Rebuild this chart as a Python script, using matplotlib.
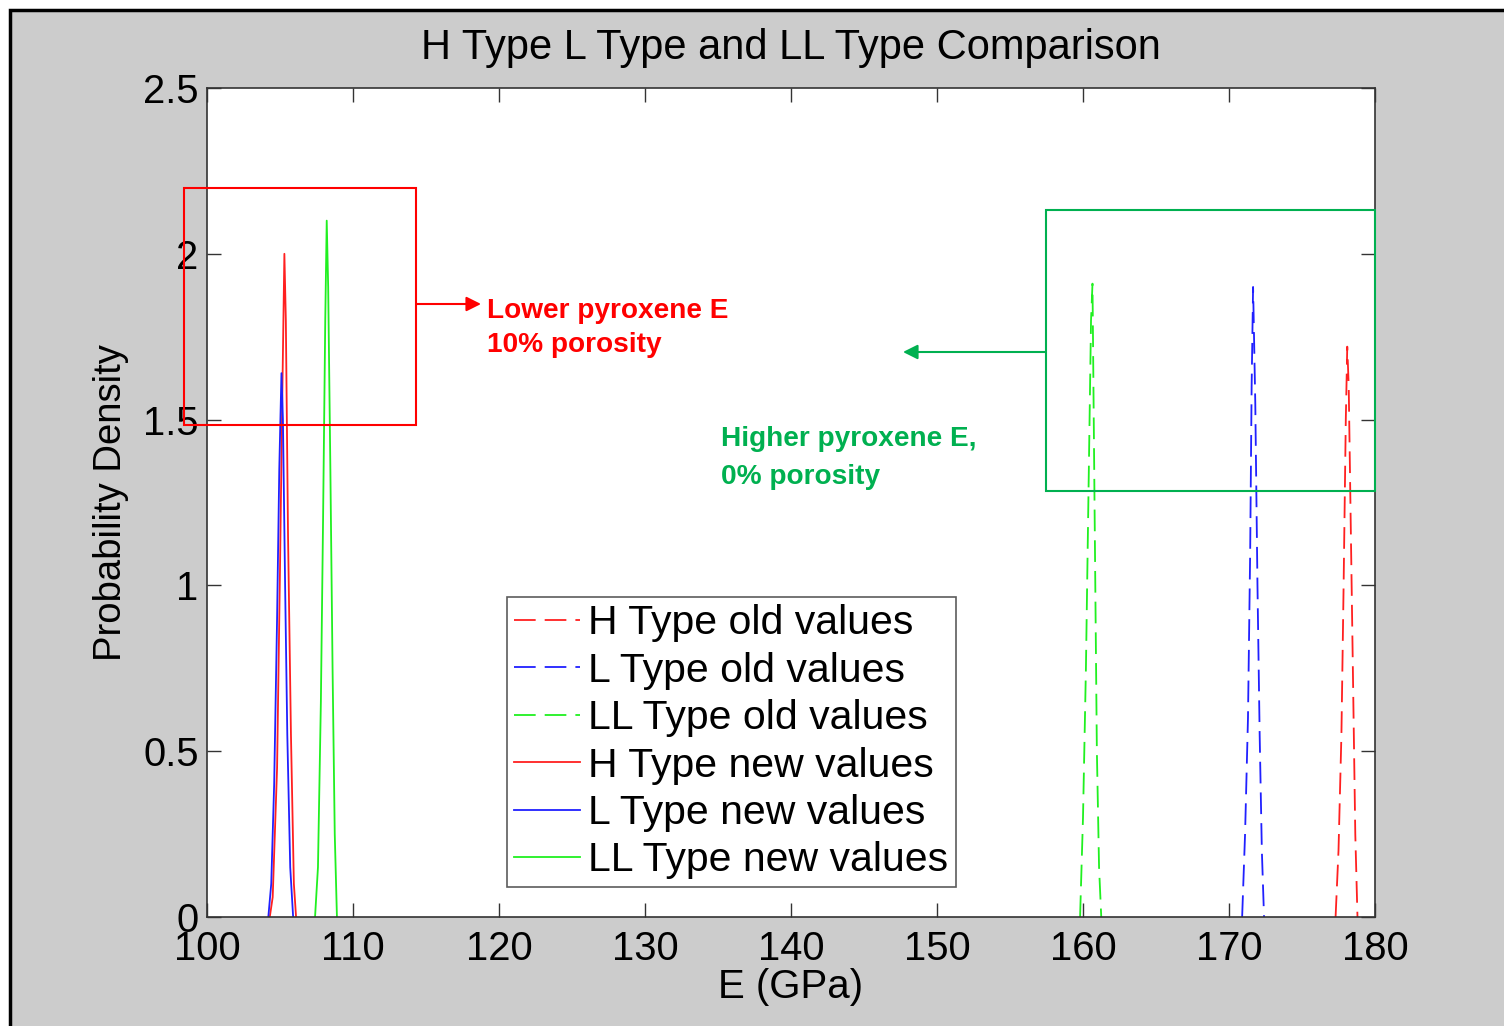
import matplotlib
matplotlib.use("Agg")
import matplotlib.pyplot as plt
from matplotlib.patches import Rectangle

plt.rcParams["font.family"] = ["Liberation Sans", "DejaVu Sans"]

# Probability density curves (E in GPa)
h_old_E = [177.3, 177.5, 177.7, 177.85, 178.0, 178.1, 178.2, 178.35, 178.5, 178.65, 178.8]
h_old_pdf = [0.0, 0.2, 0.55, 1.0, 1.5, 1.72, 1.6, 1.15, 0.7, 0.25, 0.0]

l_old_E = [170.9, 171.1, 171.3, 171.45, 171.55, 171.65, 171.8, 171.95, 172.1, 172.25, 172.4]
l_old_pdf = [0.0, 0.25, 0.6, 1.1, 1.6, 1.9, 1.55, 1.0, 0.55, 0.2, 0.0]

ll_old_E = [159.8, 160.0, 160.2, 160.4, 160.55, 160.65, 160.8, 160.95, 161.1, 161.25]
ll_old_pdf = [0.0, 0.3, 0.75, 1.35, 1.8, 1.91, 1.2, 0.5, 0.15, 0.0]

h_new_E = [104.3, 104.5, 104.8, 105.0, 105.15, 105.3, 105.4, 105.55, 105.75, 105.95, 106.1]
h_new_pdf = [0.0, 0.06, 0.45, 1.05, 1.55, 2.0, 1.8, 1.15, 0.55, 0.1, 0.0]

l_new_E = [104.2, 104.4, 104.6, 104.8, 104.95, 105.1, 105.2, 105.35, 105.5, 105.7, 105.9]
l_new_pdf = [0.0, 0.1, 0.4, 0.9, 1.35, 1.64, 1.5, 1.0, 0.55, 0.15, 0.0]

ll_new_E = [107.4, 107.6, 107.8, 107.95, 108.1, 108.2, 108.3, 108.45, 108.6, 108.75, 108.9]
ll_new_pdf = [0.0, 0.15, 0.65, 1.2, 1.8, 2.1, 1.9, 1.35, 0.75, 0.25, 0.0]

labels = ["H Type old values", "L Type old values", "LL Type old values",
          "H Type new values", "L Type new values", "LL Type new values"]

RED = "#ff2020"
BLUE = "#2020ff"
GREEN = "#20f020"
ANN_GREEN = "#00b050"

W, H = 1504, 1026
fig = plt.figure(figsize=(W / 100, H / 100), dpi=100, facecolor="white")

# gray MATLAB-like figure background with black frame
fig.patches.append(Rectangle((10 / W, -0.05), 1.1, 1 - 10 / H + 0.05,
                             transform=fig.transFigure, facecolor="#cccccc",
                             edgecolor="black", lw=2.5, zorder=-10))

ax = fig.add_axes([207 / W, 1 - 917 / H, (1375 - 207) / W, (917 - 88) / H])
ax.set_facecolor("white")

dash = (12, 5)
ax.plot(h_old_E, h_old_pdf, color=RED, lw=1.3, dashes=dash, label=labels[0])
ax.plot(l_old_E, l_old_pdf, color=BLUE, lw=1.3, dashes=dash, label=labels[1])
ax.plot(ll_old_E, ll_old_pdf, color=GREEN, lw=1.3, dashes=dash, label=labels[2])
ax.plot(h_new_E, h_new_pdf, color=RED, lw=1.3, label=labels[3])
ax.plot(l_new_E, l_new_pdf, color=BLUE, lw=1.3, label=labels[4])
ax.plot(ll_new_E, ll_new_pdf, color=GREEN, lw=1.3, label=labels[5])

ax.set_xlim(100, 180)
ax.set_ylim(0, 2.5)
ax.set_xticks(range(100, 181, 10))
ax.set_yticks([0, 0.5, 1, 1.5, 2, 2.5])
ax.set_yticklabels(["0", "0.5", "1", "1.5", "2", "2.5"])
ax.tick_params(direction="in", length=10, width=1, top=True, right=True,
               labelsize=28.8, colors="#333333", labelcolor="black")
ax.tick_params(axis="x", pad=9)
ax.tick_params(axis="y", pad=6)
for s in ax.spines.values():
    s.set_color("#333333")
    s.set_linewidth(1.2)

ax.set_title("H Type L Type and LL Type Comparison", fontsize=30, pad=21)
ax.set_xlabel("E (GPa)", fontsize=29, labelpad=0)
ax.set_ylabel("Probability Density", fontsize=27.5, labelpad=10)

leg = ax.legend(loc="upper left", bbox_to_anchor=(507 / W, 1 - 597 / H),
                bbox_transform=fig.transFigure, fontsize=29.5, frameon=True,
                fancybox=False, edgecolor="#333333", handlelength=1.6,
                handletextpad=0.2, labelspacing=0.23, borderpad=0.18,
                borderaxespad=0)
leg.get_frame().set_linewidth(1.2)


# annotation boxes, arrows and text (figure pixel coords)
def fx(px):
    return px / W


def fy(py):
    return 1 - py / H


fig.patches.append(Rectangle((fx(184), fy(425)), (416 - 184) / W, (425 - 188) / H,
                             transform=fig.transFigure, fill=False,
                             edgecolor="red", lw=1.5, zorder=5))
fig.patches.append(Rectangle((fx(1046), fy(491)), (1375 - 1046) / W, (491 - 210) / H,
                             transform=fig.transFigure, fill=False,
                             edgecolor=ANN_GREEN, lw=1.5, zorder=5))

fig.add_artist(plt.Annotation("", xy=(fx(481), fy(304)), xytext=(fx(416), fy(304)),
                              xycoords="figure fraction", textcoords="figure fraction",
                              arrowprops=dict(arrowstyle="-|>", color="red", lw=1.5,
                                              mutation_scale=22, shrinkA=0, shrinkB=0)))
fig.add_artist(plt.Annotation("", xy=(fx(903), fy(352)), xytext=(fx(1046), fy(352)),
                              xycoords="figure fraction", textcoords="figure fraction",
                              arrowprops=dict(arrowstyle="-|>", color=ANN_GREEN, lw=1.5,
                                              mutation_scale=22, shrinkA=0, shrinkB=0)))

fig.text(fx(487), fy(328), "Lower pyroxene E\n10% porosity", color="red",
         fontsize=20.2, fontweight="bold", ha="left", va="center", linespacing=1.38)
fig.text(fx(721), fy(458), "Higher pyroxene E,\n0% porosity", color=ANN_GREEN,
         fontsize=20.2, fontweight="bold", ha="left", va="center", linespacing=1.55)

fig.savefig("out.png", dpi=100)
